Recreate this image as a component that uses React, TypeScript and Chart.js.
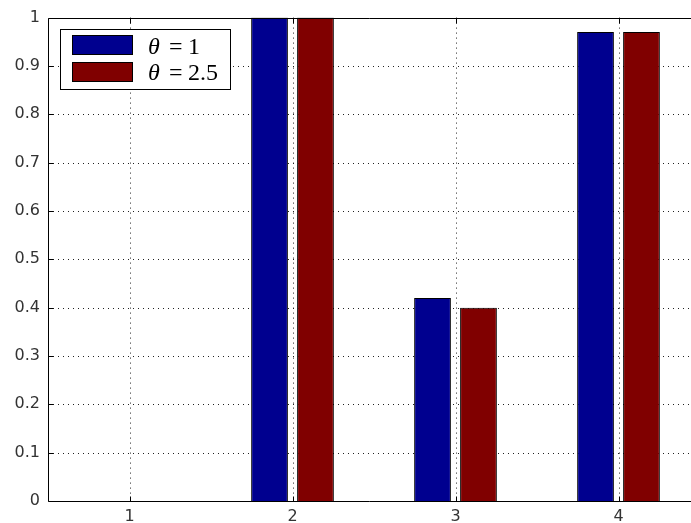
import React, { useEffect, useRef } from "react";
import { Chart, registerables } from "chart.js";

Chart.register(...registerables);

// ---- data ----
const categories = [1, 2, 3, 4];
const theta1Values = [0, 1.0, 0.42, 0.97];
const theta25Values = [0, 1.0, 0.4, 0.97];
const yTickValues = [0, 0.1, 0.2, 0.3, 0.4, 0.5, 0.6, 0.7, 0.8, 0.9, 1];
const xTickValues = [1, 2, 3, 4];
const legendSymbol = "θ";
const legendNumbers = ["1", "2.5"];
const seriesColors = ["#00008f", "#800000"];

const W = 691;
const H = 523;

const boxPlugin = {
  id: "matlabBox",
  beforeDatasetsDraw(chart: any) {
    const { ctx, chartArea: a, scales } = chart;
    const xs = scales.x;
    const ys = scales.y;
    ctx.save();
    ctx.strokeStyle = "#222";
    ctx.lineWidth = 1;
    ctx.setLineDash([1, 4]);
    yTickValues.forEach((v) => {
      if (v === 0 || v === 1) return;
      const y = Math.round(ys.getPixelForValue(v)) + 0.5;
      ctx.beginPath();
      ctx.moveTo(a.left, y);
      ctx.lineTo(a.right, y);
      ctx.stroke();
    });
    xTickValues.forEach((v) => {
      const x = Math.round(xs.getPixelForValue(v)) + 0.5;
      ctx.beginPath();
      ctx.moveTo(x, a.top);
      ctx.lineTo(x, a.bottom);
      ctx.stroke();
    });
    ctx.restore();
  },
  afterDatasetsDraw(chart: any) {
    const { ctx, chartArea: a, scales } = chart;
    const xs = scales.x;
    const ys = scales.y;
    ctx.save();
    ctx.strokeStyle = "#000";
    ctx.lineWidth = 1;
    ctx.setLineDash([]);
    const L = Math.round(a.left) + 0.5;
    const T = Math.round(a.top) + 0.5;
    const B = Math.round(a.bottom) + 0.5;
    ctx.beginPath();
    ctx.moveTo(a.right, T);
    ctx.lineTo(L, T);
    ctx.lineTo(L, B);
    ctx.lineTo(a.right, B);
    ctx.stroke();
    const tl = 5;
    yTickValues.forEach((v) => {
      const y = Math.round(ys.getPixelForValue(v)) + 0.5;
      ctx.beginPath();
      ctx.moveTo(L, y);
      ctx.lineTo(L + tl, y);
      ctx.stroke();
    });
    xTickValues.forEach((v) => {
      const x = Math.round(xs.getPixelForValue(v)) + 0.5;
      ctx.beginPath();
      ctx.moveTo(x, B);
      ctx.lineTo(x, B - tl);
      ctx.moveTo(x, T);
      ctx.lineTo(x, T + tl);
      ctx.stroke();
    });
    ctx.restore();
  },
  afterDraw(chart: any) {
    const { ctx } = chart;
    ctx.save();
    ctx.fillStyle = "#fff";
    ctx.fillRect(60, 29, 170, 60);
    ctx.strokeStyle = "#000";
    ctx.lineWidth = 1;
    ctx.strokeRect(60.5, 29.5, 170, 60);
    const rows = [
      { y: 35, base: 54 },
      { y: 62, base: 80 },
    ];
    rows.forEach((r, i) => {
      ctx.fillStyle = seriesColors[i];
      ctx.fillRect(72, r.y, 61, 20);
      ctx.strokeStyle = "#000";
      ctx.strokeRect(72.5, r.y + 0.5, 60, 19);
      ctx.fillStyle = "#000";
      ctx.textBaseline = "alphabetic";
      ctx.textAlign = "left";
      ctx.font = "italic 24px 'Liberation Serif', serif";
      ctx.fillText(legendSymbol, 148, r.base);
      ctx.font = "24px 'Liberation Serif', serif";
      ctx.fillText("=", 169, r.base);
      ctx.fillText(legendNumbers[i], 188, r.base);
    });
    ctx.restore();
  },
};

export default function App() {
  const ref = useRef<HTMLCanvasElement | null>(null);

  useEffect(() => {
    if (!ref.current) return;
    const unit = 163;
    const xMax = 0.5 + (W - 48) / unit;
    const chart = new Chart(ref.current, {
      type: "bar",
      data: {
        datasets: [
          {
            label: legendSymbol + " = " + legendNumbers[0],
            data: categories.map((c, i) => ({ x: c, y: theta1Values[i] })),
            backgroundColor: seriesColors[0],
            borderColor: "#000",
            borderWidth: 1,
            categoryPercentage: 0.564,
            barPercentage: 0.8,
          },
          {
            label: legendSymbol + " = " + legendNumbers[1],
            data: categories.map((c, i) => ({ x: c, y: theta25Values[i] })),
            backgroundColor: seriesColors[1],
            borderColor: "#000",
            borderWidth: 1,
            categoryPercentage: 0.564,
            barPercentage: 0.8,
          },
        ],
      },
      options: {
        animation: false,
        responsive: false,
        devicePixelRatio: 1,
        layout: { padding: { top: 16, right: 0, bottom: 0, left: 0 } },
        plugins: {
          legend: { display: false },
          tooltip: { enabled: false },
        },
        scales: {
          x: {
            type: "linear",
            offset: false,
            min: 0.5,
            max: xMax,
            grid: { display: false, drawTicks: false, offset: false },
            border: { display: false },
            afterBuildTicks: (s: any) => {
              s.ticks = xTickValues.map((v) => ({ value: v }));
            },
            afterFit: (s: any) => {
              s.height = 22;
            },
            ticks: {
              padding: 6,
              color: "#333",
              font: { family: "'DejaVu Sans', sans-serif", size: 16 },
              callback: (v: any) => String(v),
            },
          },
          y: {
            type: "linear",
            min: 0,
            max: 1,
            grid: { display: false, drawTicks: false },
            border: { display: false },
            afterBuildTicks: (s: any) => {
              s.ticks = yTickValues.map((v) => ({ value: v }));
            },
            afterFit: (s: any) => {
              s.width = 48;
            },
            ticks: {
              padding: 8,
              color: "#333",
              font: { family: "'DejaVu Sans', sans-serif", size: 16 },
              callback: (v: any) => String(Number(Number(v).toFixed(1))),
            },
          },
        },
      },
      plugins: [boxPlugin],
    } as any);
    return () => chart.destroy();
  }, []);

  return (
    <div
      style={{
        position: "fixed",
        left: 0,
        top: 0,
        width: W,
        height: H,
        background: "#fff",
        overflow: "hidden",
      }}
    >
      <canvas ref={ref} width={W} height={H} style={{ display: "block" }} />
    </div>
  );
}
